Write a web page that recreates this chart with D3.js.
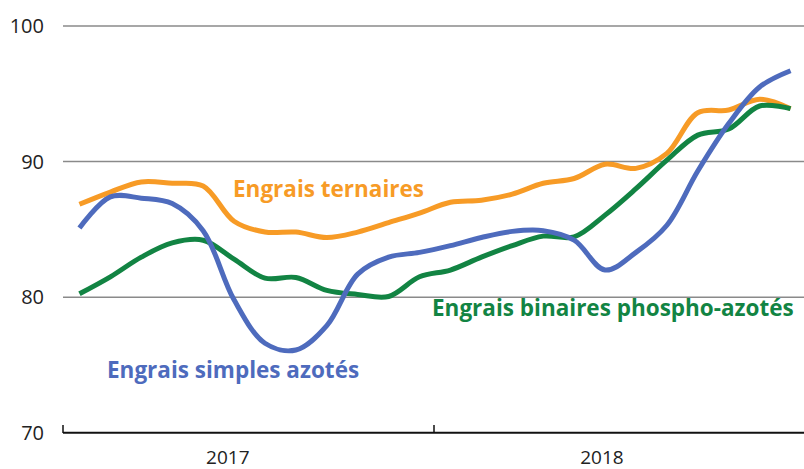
<!DOCTYPE html>
<html><head><meta charset="utf-8">
<script src="https://cdn.jsdelivr.net/npm/d3@7"></script>
<style>body{margin:0;background:#fff}svg{display:block}</style>
</head><body>
<svg id="c" width="804" height="469"></svg>
<script>
const months = d3.range(24);
const years = ["2017", "2018"];
const yTicks = [70, 80, 90, 100];
const ternaires = [86.85, 87.75, 88.5, 88.4, 88.2, 85.6, 84.8, 84.8, 84.4, 84.8, 85.5, 86.2,
                   87.0, 87.15, 87.6, 88.4, 88.75, 89.8, 89.5, 90.6, 93.6, 93.8, 94.6, 93.9];
const simples = [85.1, 87.4, 87.3, 86.9, 84.9, 79.8, 76.6, 76.1, 77.9, 81.7, 82.95, 83.3,
                 83.8, 84.4, 84.85, 84.9, 84.2, 82.0, 83.3, 85.3, 89.3, 92.8, 95.5, 96.7];
const binaires = [80.25, 81.5, 82.95, 84.0, 84.2, 82.8, 81.4, 81.45, 80.5, 80.2, 80.05, 81.5,
                  82.0, 82.95, 83.8, 84.5, 84.45, 86.05, 88.0, 90.1, 91.95, 92.4, 94.1, 93.9];
const seriesNames = ["Engrais ternaires", "Engrais simples azotés", "Engrais binaires phospho-azotés"];
const colors = ["#F79B26", "#4E6BBD", "#128443"];

const svg = d3.select("#c");
const x = d3.scaleLinear().domain([-0.5, 23.5]).range([64, 806]);
const y = d3.scaleLinear().domain([70, 100]).range([432.7, 26]);
const font = "'Open Sans', sans-serif";

// gridlines
svg.append("g").selectAll("line").data(yTicks.filter(d => d > 70)).join("line")
  .attr("x1", 63).attr("x2", 804)
  .attr("y1", d => y(d)).attr("y2", d => y(d))
  .attr("stroke", "#8a8a8a").attr("stroke-width", 1.5);

// y labels
svg.append("g").selectAll("text").data(yTicks).join("text")
  .attr("x", 44).attr("y", d => y(d)).attr("dy", "0.35em")
  .attr("text-anchor", "end").attr("font-family", font).attr("font-size", 20)
  .attr("fill", "#222").text(d => d);

// x axis
svg.append("line").attr("x1", 63).attr("x2", 804).attr("y1", 432.7).attr("y2", 432.7)
  .attr("stroke", "#111").attr("stroke-width", 2);
const bounds = [-0.5, 11.5];
svg.append("g").selectAll("line").data(bounds).join("line")
  .attr("x1", d => x(d) - 1).attr("x2", d => x(d) - 1)
  .attr("y1", 433).attr("y2", 425)
  .attr("stroke", "#111").attr("stroke-width", 1.5);
svg.append("g").selectAll("text").data(years).join("text")
  .attr("x", (d, i) => x(i * 12.1 + 4.8)).attr("y", 463.5)
  .attr("text-anchor", "middle").attr("font-family", font).attr("font-size", 19)
  .attr("fill", "#222").text(d => d);

// lines
const line = d3.line().x((d, i) => x(i)).y(d => y(d)).curve(d3.curveCatmullRom.alpha(0.5));
const data = [ternaires, binaires, simples];
const cols = [colors[0], colors[2], colors[1]];
svg.append("g").selectAll("path").data(data).join("path")
  .attr("d", line).attr("fill", "none")
  .attr("stroke", (d, i) => cols[i]).attr("stroke-width", 5)
  .attr("stroke-linejoin", "round");

// labels
const labels = [
  {t: seriesNames[0], x: 233, y: 197, c: colors[0]},
  {t: seriesNames[1], x: 107, y: 378, c: colors[1]},
  {t: seriesNames[2], x: 432, y: 316, c: colors[2]}
];
svg.append("g").selectAll("text").data(labels).join("text")
  .attr("x", d => d.x).attr("y", d => d.y)
  .attr("font-family", font).attr("font-weight", "bold").attr("font-size", 22.5)
  .attr("fill", d => d.c).text(d => d.t);
</script>
</body></html>
